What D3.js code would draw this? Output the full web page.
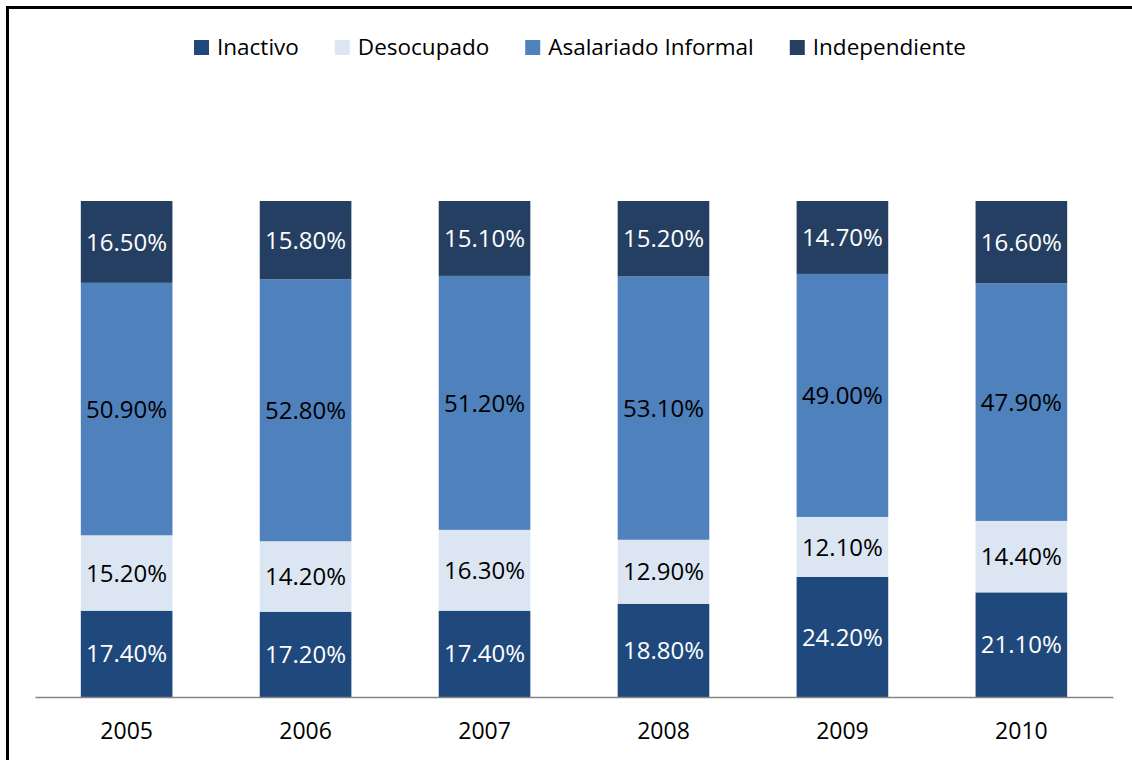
<!DOCTYPE html>
<html>
<head>
<meta charset="utf-8">
<script src="https://cdn.jsdelivr.net/npm/d3@7"></script>
<style>
  html, body { margin: 0; padding: 0; background: #fff; }
  svg { display: block; font-family: "Open Sans", "Noto Sans", sans-serif; }
</style>
</head>
<body>
<div id="chart"></div>
<script>
// Dati
const years = ['2005', '2006', '2007', '2008', '2009', '2010'];
const seriesNames = ['Inactivo', 'Desocupado', 'Asalariado Informal', 'Independiente'];
const inactivo = [17.4, 17.2, 17.4, 18.8, 24.2, 21.1];
const desocupado = [15.2, 14.2, 16.3, 12.9, 12.1, 14.4];
const asalariado = [50.9, 52.8, 51.2, 53.1, 49.0, 47.9];
const independiente = [16.5, 15.8, 15.1, 15.2, 14.7, 16.6];

const fills = ['#1f497d', '#dce6f2', '#4f81bd', '#253f62'];
const labelColors = ['#fff', '#000', '#000', '#fff'];

const W = 1132, H = 760;
const margin = { top: 201, right: 19, bottom: 63, left: 35 };
const width = W - margin.left - margin.right;
const height = H - margin.top - margin.bottom;

const svg = d3.select('#chart').append('svg')
    .attr('width', W)
    .attr('height', H);

// Cornice
svg.append('rect')
    .attr('x', 7.5).attr('y', 7.5)
    .attr('width', W + 20).attr('height', H + 20)
    .attr('fill', 'none')
    .attr('stroke', '#000')
    .attr('stroke-width', 3);

const g = svg.append('g')
    .attr('transform', `translate(${margin.left},${margin.top})`);

// Tabella per lo stack
const table = years.map((y, i) => ({
    year: y,
    'Inactivo': inactivo[i],
    'Desocupado': desocupado[i],
    'Asalariado Informal': asalariado[i],
    'Independiente': independiente[i]
}));

const stacked = d3.stack().keys(seriesNames)(table);

const x = d3.scaleBand()
    .domain(years)
    .range([0, width])
    .paddingInner(0.488)
    .paddingOuter(0.256);

const y = d3.scaleLinear()
    .domain([0, 100])
    .range([height, 0]);

// Barre
const layers = g.selectAll('.layer')
    .data(stacked)
    .enter().append('g')
    .attr('class', 'layer')
    .attr('fill', (d, i) => fills[i]);

layers.selectAll('rect')
    .data(d => d)
    .enter().append('rect')
    .attr('x', d => x(d.data.year))
    .attr('y', d => y(d[1]))
    .attr('width', x.bandwidth())
    .attr('height', d => y(d[0]) - y(d[1]));

// Etichette
stacked.forEach((layer, li) => {
    g.selectAll(null)
        .data(layer)
        .enter().append('text')
        .attr('x', d => x(d.data.year) + x.bandwidth() / 2)
        .attr('y', d => (y(d[0]) + y(d[1])) / 2)
        .attr('dy', '0.36em')
        .attr('text-anchor', 'middle')
        .style('font-size', '24px')
        .style('fill', labelColors[li])
        .text(d => (d[1] - d[0]).toFixed(2) + '%');
});

// Asse X
const xAxis = g.append('g')
    .attr('transform', `translate(0,${height})`)
    .call(d3.axisBottom(x).tickSize(0).tickPadding(26));

xAxis.select('.domain')
    .attr('stroke', '#868686')
    .attr('stroke-width', 1.3);

xAxis.selectAll('text')
    .style('font-family', '"Open Sans", "Noto Sans", sans-serif')
    .style('font-size', '23px')
    .style('fill', '#000');

// Legenda
const legend = svg.append('g').attr('class', 'legend');
let cursor = 0;
seriesNames.forEach((name, i) => {
    const item = legend.append('g').attr('transform', `translate(${cursor},0)`);
    item.append('rect')
        .attr('x', 0).attr('y', -15)
        .attr('width', 15).attr('height', 15)
        .attr('fill', fills[i]);
    const t = item.append('text')
        .attr('x', 23)
        .attr('y', 0)
        .style('font-size', '22.5px')
        .style('fill', '#000')
        .text(name);
    cursor += 23 + t.node().getComputedTextLength() + 36;
});
const legendWidth = cursor - 36;
legend.attr('transform', `translate(${580 - legendWidth / 2},55)`);
</script>
</body>
</html>
